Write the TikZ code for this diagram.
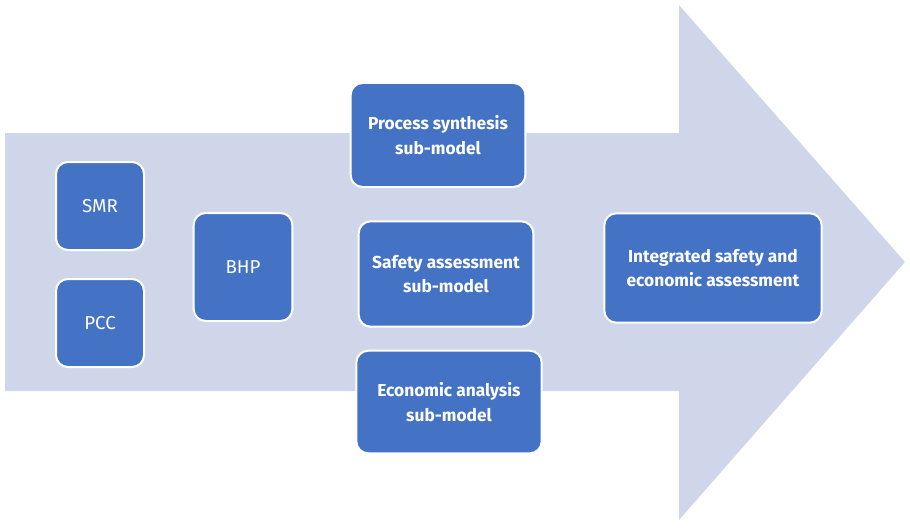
\documentclass[tikz,border=0pt]{standalone}
\usepackage{fontspec}
\setmainfont{Fira Sans}
\usepackage{xcolor}
\definecolor{arrowfill}{RGB}{208,214,234}
\definecolor{boxfill}{RGB}{68,114,196}

\tikzset{
  stagebox/.style={draw=white,line width=1.5pt,fill=boxfill,rounded corners=9pt,
    text=white,align=center,inner sep=0pt,font=\fontsize{14}{18.5}\selectfont},
  stagebold/.style={stagebox,font=\fontsize{13}{18.5}\selectfont\bfseries}
}

\begin{document}
\begin{tikzpicture}[x=0.75pt,y=0.75pt,yscale=-1,xscale=1]
\useasboundingbox (0,0) rectangle (910,528);

% Big arrow
\fill [arrowfill] (5,133) -- (679,133) -- (679,5) -- (905,262) -- (679,520) -- (679,391) -- (5,391) -- cycle ;

% Inputs
\node [stagebox,minimum width=66pt,minimum height=66pt] (smr) at (100,206) {SMR};
\node [stagebox,minimum width=66pt,minimum height=66pt] (pcc) at (100,323) {PCC};
\node [stagebox,minimum width=74pt,minimum height=81pt] (bhp) at (243,267) {BHP};

% Sub-models
\node [stagebold,minimum width=131pt,minimum height=78pt] (synth) at (438,135) {Process synthesis\\sub-model};
\node [stagebold,minimum width=131pt,minimum height=79pt] (safety) at (446,274) {Safety assessment\\sub-model};
\node [stagebold,minimum width=139pt,minimum height=77pt] (econ) at (449,402) {Economic analysis\\sub-model};

% Output
\node [stagebold,minimum width=163pt,minimum height=82pt] (integ) at (713,268) {Integrated safety and\\economic assessment};

\end{tikzpicture}
\end{document}
